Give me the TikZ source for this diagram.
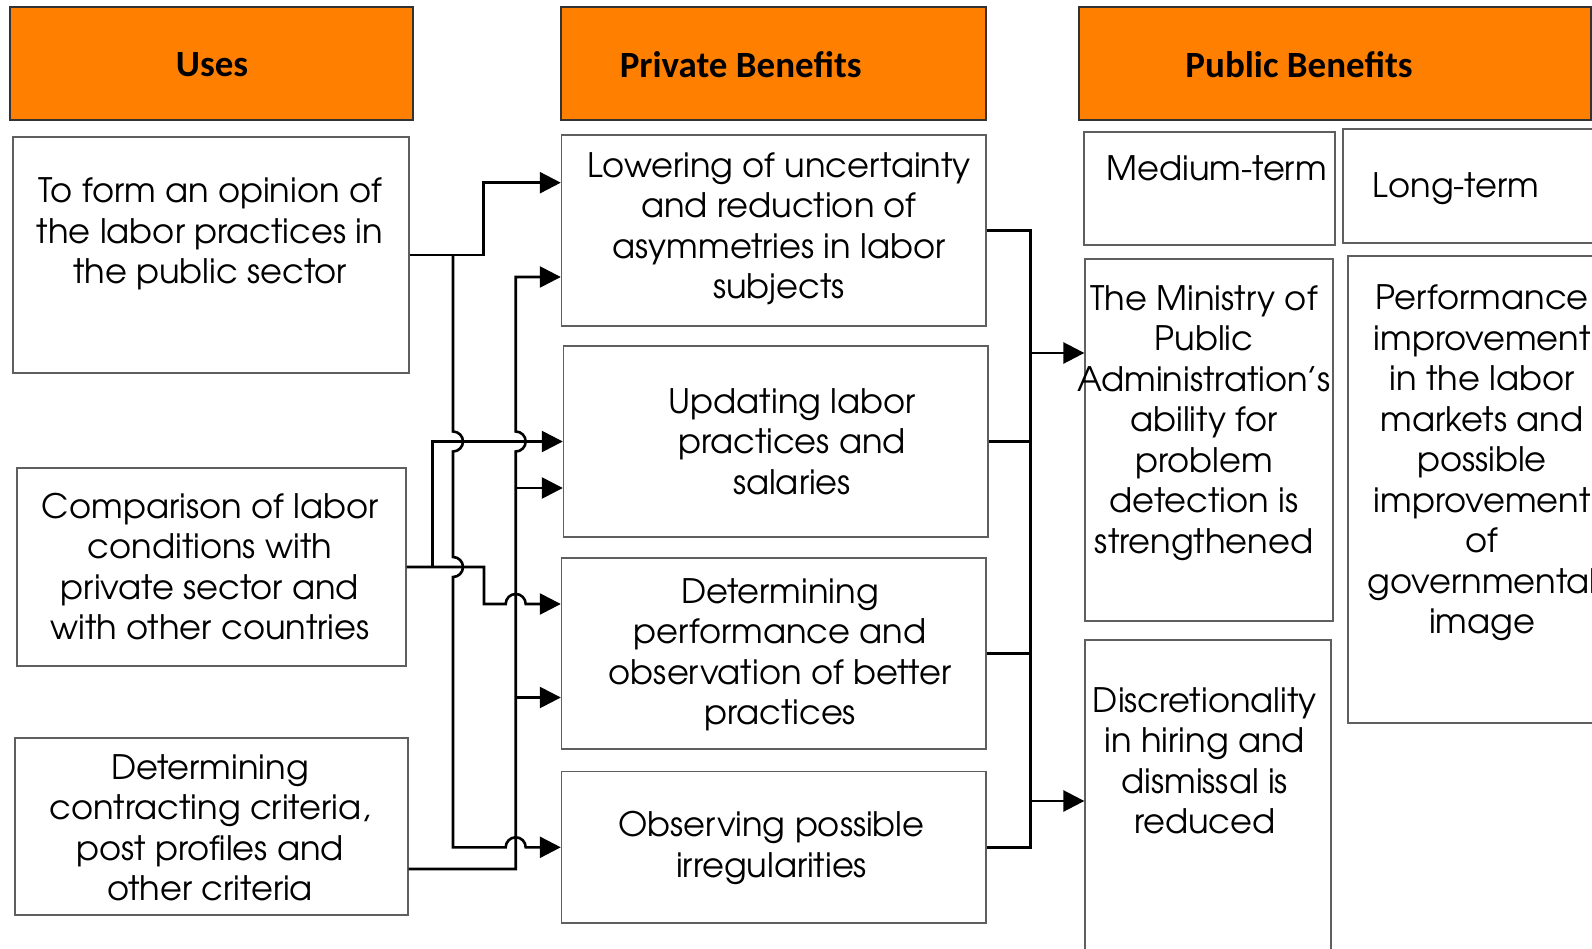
\documentclass[tikz,border=0pt]{standalone}
\usepackage{fontspec}
\setmainfont{texgyreadventor}[Extension=.otf, UprightFont=*-regular, BoldFont=*-bold, ItalicFont=*-italic, BoldItalicFont=*-bolditalic]
\newfontfamily\headfont{Carlito}
\usetikzlibrary{arrows.meta,positioning}
\definecolor{headorange}{HTML}{FF8000}
\definecolor{boxgray}{HTML}{5F5F5F}
\tikzset{
  head/.style={draw=black!80, line width=1.2pt, fill=headorange, minimum height=113pt},
  box/.style={draw=boxgray, line width=1.3pt, fill=white},
  txt/.style={align=center, inner sep=0pt, font=\fontsize{33.7}{40.5}\selectfont},
  htxt/.style={inner sep=0pt, font=\headfont\bfseries\fontsize{37}{42}\selectfont},
  line/.style={line width=2.6pt},
  arr/.style={line width=2.6pt, -{Triangle[length=21pt,width=21pt]}},
  hop/.style={radius=10pt}
}
\begin{document}
\begin{tikzpicture}[x=1pt,y=-1pt]
\useasboundingbox (0,0) rectangle (1592,949);
% headers
\node[head, minimum width=403pt] (usesH) at (211.5,63.5) {};
\node[htxt] (usesHt) at (212,65) {Uses};
\node[head, minimum width=425pt] (privH) at (773.5,63.5) {};
\node[htxt] (privHt) at (740.7,65) {Private Benefits};
\node[head, minimum width=512pt] (pubH) at (1335,63.5) {};
\node[htxt] (pubHt) at (1299,65) {Public Benefits};
% uses
\node[box, minimum width=396pt, minimum height=236pt] (usesA) at (211,255) {};
\node[txt] (usesAt) at (210,234) {To form an opinion of\\the labor practices in\\the public sector};
\node[box, minimum width=389pt, minimum height=198pt] (usesB) at (211.5,567) {};
\node[txt] (usesBt) at (210,566.5) {Comparison of labor\\conditions with\\private sector and\\with other countries};
\node[box, minimum width=393pt, minimum height=177pt] (usesC) at (211.5,826.5) {};
\node[txt] (usesCt) at (210,828) {Determining\\contracting criteria,\\post profiles and\\other criteria};
% private benefits
\node[box, minimum width=424.5pt, minimum height=191pt] (privA) at (773.7,230.5) {};
\node[txt] (privAt) at (779,229) {Lowering of uncertainty\\and reduction of\\asymmetries in labor\\subjects};
\node[box, minimum width=424.5pt, minimum height=191pt] (privB) at (775.7,441.5) {};
\node[txt] (privBt) at (792,441.6) {Updating labor\\practices and\\salaries};
\node[box, minimum width=424.5pt, minimum height=191pt] (privC) at (773.7,653.5) {};
\node[txt] (privCt) at (780,655) {Determining\\performance and\\observation of better\\practices};
\node[box, minimum width=424.5pt, minimum height=151.4pt] (privD) at (773.7,847.3) {};
\node[txt] (privDt) at (771.6,848) {Observing possible\\irregularities};
% public benefits
\node[box, minimum width=251pt, minimum height=113pt] (medium) at (1209.5,188.5) {};
\node[txt] (mediumt) at (1216.5,168.5) {Medium-term};
\node[box, minimum width=297pt, minimum height=114pt] (long) at (1491.5,186) {};
\node[txt] (longt) at (1456,189) {Long-term};
\node[box, minimum width=248pt, minimum height=362pt] (ministry) at (1209,440) {};
\node[txt] (ministryt) at (1204,423) {The Ministry of\\Public\\Administration’s\\ability for\\problem\\detection is\\strengthened};
\node[box, minimum width=246pt, minimum height=360pt] (discr) at (1208,820) {};
\node[txt] (discrt) at (1204.8,760.8) {Discretionality\\in hiring and\\dismissal is\\reduced};
\node[box, minimum width=268pt, minimum height=467pt] (perf) at (1482,489.5) {};
\node[txt] (perft) at (1482,462.8) {Performance\\improvement\\in the labor\\markets and\\possible\\improvement\\of\\governmental\\image};
% junctions
\coordinate (jA) at (453,255);
\coordinate (jB) at (432.5,567);
\coordinate (jC1) at (515.7,488);
\coordinate (jC2) at (515.7,697.5);
\coordinate (busA) at (1030.5,353);
\coordinate (busB) at (1030.5,801);
% uses -> private
\draw[arr] (usesA.east) -- ++(74,0) |- ([yshift=47.8pt]privA.west);
\draw[arr] (jA) -- (453,431.5) arc[start angle=90,end angle=-90,hop] -- (453,557) arc[start angle=90,end angle=-90,hop] |- (505.7,847.3) arc[start angle=180,end angle=0,hop] -- (privD.west);
\draw[arr] (usesB.east) -- (484,567) |- (505.7,604) arc[start angle=180,end angle=0,hop] -- ([yshift=49.5pt]privC.west);
\draw[arr] (jB) |- (privB.west);
\draw[arr] ([yshift=-42.5pt]usesC.east) -| (515.7,451.5) arc[start angle=-90,end angle=90,hop] |- ([yshift=-46.5pt]privA.west);
\draw[arr] (jC1) -- ([yshift=-46.5pt]privB.west);
\draw[arr] (jC2) -- ([yshift=-44pt]privC.west);
% private -> public
\draw[line] (privA.east) -- (1030.5,230.5) -- (1030.5,847.3) -- (privD.east);
\draw[line] (privB.east) -- (1030.5,441.5);
\draw[line] (privC.east) -- (1030.5,653.5);
\draw[arr] (busA) -- ([yshift=87pt]ministry.west);
\draw[arr] (busB) -- ([yshift=19pt]discr.west);
\end{tikzpicture}
\end{document}
